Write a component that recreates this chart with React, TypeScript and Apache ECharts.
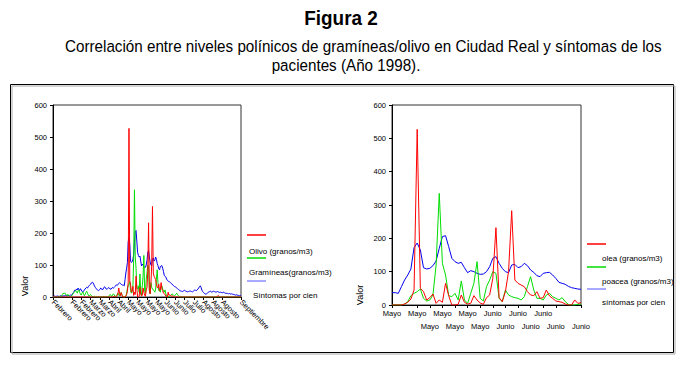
import { useEffect, useRef } from 'react';
import * as echarts from 'echarts';

// ---- Tick labels ----
const leftTickLabels = [
  'Febrero', 'Febrero', 'Febrero', 'Febrero', 'Marzo', 'Marzo', 'Abril', 'Abril',
  'Mayo', 'Mayo', 'Mayo', 'Mayo', 'Junio', 'Junio', 'Julio', 'Julio',
  'Agosto', 'Agosto', 'Agosto', 'Septiembre', 'Septiembre',
];
const rightTickLabels = [
  'Mayo', 'Mayo', 'Mayo', 'Mayo', 'Mayo', 'Mayo', 'Mayo', 'Mayo',
  'Junio', 'Junio', 'Junio', 'Junio', 'Junio', 'Junio', 'Junio', 'Junio',
];
const yTicks = [0, 100, 200, 300, 400, 500, 600];

// ---- Daily values, 1 Feb - 30 Apr (89 days) ----
const oleaFebApr = [
  0, 0, 0, 0, 0, 0, 0, 0, 0, 0,
  0, 0, 0, 0, 0, 0, 0, 0, 0, 0,
  0, 0, 0, 0, 0, 0, 0, 0, 0, 0,
  0, 0, 0, 0, 0, 0, 0, 0, 0, 0,
  0, 0, 0, 0, 0, 0, 0, 0, 0, 0,
  0, 0, 0, 0, 0, 0, 0, 0, 0, 0,
  0, 0, 0, 0, 0, 0, 0, 0, 0, 0,
  0, 0, 0, 0, 0, 0,
  0, 1, 3, 2, 0, 1, 5, 12, 28, 10, 4, 14, 6,
];
const poaceaFebApr = [
  0, 0, 0, 0, 1, 0, 0, 2, 0, 1, 0,
  3, 8, 12, 10, 13, 9, 6, 4, 8, 3,
  1, 0, 2, 4, 8, 12, 15, 18, 20, 16,
  12, 20, 22, 14, 10, 6, 12, 16, 10, 4,
  8, 14, 18, 12, 6, 3, 5, 8, 4, 2,
  1, 0, 2, 0, 1, 0, 0, 1, 0, 0,
  0, 1, 0, 0, 2, 0, 0, 1, 0, 0,
  3, 5, 8, 4, 2, 6, 10, 7, 3, 2,
  5, 8, 12, 6, 3, 10, 14, 8,
];
const sintomasFebApr = [
  2, 2, 3, 2, 2, 3, 3, 2, 2, 3,
  4, 3, 3, 4, 3, 4, 5, 4, 5, 4,
  5, 4, 6, 5, 6, 10, 14, 18, 22, 20,
  25, 22, 28, 24, 20, 26, 22, 18, 15, 18,
  22, 25, 28, 30, 28, 32, 35, 38, 40, 44,
  46, 45, 40, 34, 30, 26, 24, 22, 20, 22,
  24, 28, 26, 22, 25, 30, 32, 28, 25, 24,
  27, 30, 28, 25, 24, 28, 30, 27, 30, 33,
  35, 38, 36, 40, 42, 45, 42, 40, 38,
];

// ---- Daily values, 1 May - 30 Jun (61 days) ----
const oleaMayJun = [
  0, 0, 0, 0, 3, 8, 18, 45, 527, 50, 40,
  15, 22, 33, 5, 15, 8, 65, 28, 0, 0,
  2, 30, 8, 3, 5, 28, 15, 6, 2, 22,
  30, 80, 232, 22, 10, 40, 100, 283, 75, 65,
  60, 55, 40, 30, 28, 40, 20, 22, 45, 27,
  20, 12, 10, 8, 3, 0, 0, 15, 5, 7,
];
const poaceaMayJun = [
  0, 0, 0, 0, 3, 10, 28, 35, 40, 48, 20,
  12, 15, 30, 120, 335, 125, 90, 28, 25, 35,
  15, 72, 15, 5, 35, 65, 130, 20, 12, 55,
  75, 100, 95, 20, 10, 45, 30, 25, 22, 20,
  15, 25, 55, 85, 45, 20, 20, 15, 30, 35,
  25, 20, 15, 22, 10, 2, 0, 0, 2, 3,
];
const sintomasMayJun = [
  37, 37, 35, 55, 75, 90, 108, 172, 186, 165, 112,
  108, 110, 118, 132, 170, 205, 208, 175, 140, 130,
  125, 128, 112, 97, 103, 100, 95, 92, 93, 100,
  115, 140, 145, 125, 110, 100, 97, 120, 122, 112,
  115, 125, 118, 105, 98, 88, 85, 95, 97, 98,
  90, 80, 68, 65, 62, 56, 52, 50, 48, 47,
];

// ---- Daily values, 1 Jul - 28 Sep (91 days) ----
const oleaJulSep = [
  5, 3, 2, 4, 1, 0, 0, 0, 1, 0,
  0, 0, 0, 0, 0, 0, 0, 0, 0, 0,
  0, 0, 0, 0, 0, 0, 0, 0, 0, 0,
  0, 0, 0, 0, 0, 0, 0, 0, 0, 0,
  0, 0, 0, 0, 0, 0, 0, 0, 0, 0,
  0, 0, 0, 0, 0, 0, 0, 0, 0, 0,
  3, 5, 1, 0, 0, 0, 0, 0, 0, 0,
  0, 0, 0, 0, 0, 0, 0, 0, 0, 0,
  0, 0, 0, 0, 0, 0, 0, 0, 0, 0, 0,
];
const poaceaJulSep = [
  4, 6, 10, 8, 5, 3, 6, 9, 12, 7,
  4, 2, 1, 0, 1, 0, 0, 0, 0, 0,
  0, 0, 0, 0, 0, 0, 0, 0, 0, 0,
  0, 0, 0, 0, 0, 0, 0, 0, 0, 0,
  0, 0, 0, 0, 0, 0, 0, 0, 0, 0,
  0, 0, 0, 0, 0, 0, 0, 0, 0, 0,
  0, 0, 0, 0, 0, 0, 0, 0, 0, 0,
  0, 0, 0, 0, 0, 0, 0, 0, 0, 0,
  0, 0, 0, 0, 0, 0, 0, 0, 0, 0, 0,
];
const sintomasJulSep = [
  45, 42, 40, 38, 35, 33, 32, 30, 28, 26,
  24, 22, 20, 19, 18, 17, 18, 20, 21, 19,
  18, 17, 16, 17, 18, 19, 18, 17, 16, 18,
  20, 22, 21, 20, 22, 25, 28, 32, 35, 30,
  22, 17, 14, 12, 10, 9, 10, 12, 14, 16,
  17, 18, 16, 15, 17, 18, 17, 16, 15, 16,
  17, 16, 15, 14, 15, 14, 13, 14, 15, 13,
  12, 11, 12, 11, 10, 11, 10, 9, 10, 9,
  8, 8, 7, 6, 7, 6, 5, 5, 4, 4, 4,
];

const leftLegend = ['Olivo (granos/m3)', 'Gramíneas(granos/m3)', 'Síntomas por cien'];
const rightLegend = ['olea (granos/m3)', 'poacea (granos/m3)', 'síntomas por cien'];

const RED = '#ff0000';
const GREEN = '#00dd00';
const BLUE = '#0000f0';
const LAV = '#8c8cff';
const FONT = "'Liberation Sans', Arial, sans-serif";

const xy = (arr: number[]) => arr.map((v, i) => [i, v]);

function buildOption() {
  const oleaAll = [...oleaFebApr, ...oleaMayJun, ...oleaJulSep];
  const poaceaAll = [...poaceaFebApr, ...poaceaMayJun, ...poaceaJulSep];
  const sintomasAll = [...sintomasFebApr, ...sintomasMayJun, ...sintomasJulSep];
  const leftMax = (leftTickLabels.length - 1) * 12;
  const rightMax = (rightTickLabels.length - 1) * 4;

  const yAxisBase = (gridIndex: number) => ({
    gridIndex,
    type: 'value',
    min: yTicks[0],
    max: yTicks[yTicks.length - 1],
    interval: 100,
    axisLine: { show: true, lineStyle: { color: '#000', width: 1 } },
    axisTick: { show: true, length: 3, lineStyle: { color: '#000' } },
    axisLabel: { fontSize: 7.5, fontFamily: FONT, color: '#000', margin: 6 },
    splitLine: { show: false },
  });

  const line = (name: string, data: number[], color: string, idx: number) => ({
    name,
    type: 'line',
    xAxisIndex: idx,
    yAxisIndex: idx,
    data: xy(data),
    showSymbol: false,
    symbol: 'none',
    silent: true,
    lineStyle: { width: 1, color },
    itemStyle: { color },
  });

  const legendGroup = (x0: number, lineY: number[], textX: number, textY: number[], labels: string[]) => {
    const cols = [RED, GREEN, LAV];
    const els: any[] = [];
    labels.forEach((t, i) => {
      els.push({
        type: 'line',
        shape: { x1: x0, y1: lineY[i], x2: x0 + 19, y2: lineY[i] },
        style: { stroke: cols[i], lineWidth: 1.5 },
      });
      els.push({
        type: 'text',
        x: textX + (i === 2 && x0 < 300 ? 4 : 0),
        y: textY[i],
        style: { text: t, fontSize: 8, fontFamily: FONT, fill: '#000', align: 'left', verticalAlign: 'middle' },
      });
    });
    return els;
  };

  return {
    animation: false,
    backgroundColor: '#fff',
    grid: [
      { left: 53, top: 105, width: 188, height: 192, show: true, borderColor: '#333', borderWidth: 1, outerBoundsMode: 'none' },
      { left: 392, top: 105, width: 189, height: 200, show: true, borderColor: '#333', borderWidth: 1, outerBoundsMode: 'none' },
    ],
    xAxis: [
      {
        gridIndex: 0,
        type: 'value',
        min: 0,
        max: leftMax,
        interval: 12,
        axisLine: { show: true, lineStyle: { color: '#000', width: 1 } },
        axisTick: { show: true, length: 3, lineStyle: { color: '#000' } },
        axisLabel: {
          formatter: (v: number) => leftTickLabels[Math.round(v / 12)] ?? '',
          rotate: -45,
          fontSize: 7.5,
          fontFamily: FONT,
          color: '#000',
          margin: 4,
          hideOverlap: false,
          showMinLabel: true,
          showMaxLabel: true,
        },
        splitLine: { show: false },
      },
      {
        gridIndex: 1,
        type: 'value',
        min: 0,
        max: rightMax,
        interval: 4,
        axisLine: { show: true, lineStyle: { color: '#000', width: 1 } },
        axisTick: { show: true, length: 3, lineStyle: { color: '#000' } },
        axisLabel: {
          formatter: (v: number) => {
            const i = Math.round(v / 4);
            const t = rightTickLabels[i] ?? '';
            return i % 2 ? '\n' + t : t;
          },
          fontSize: 7.5,
          lineHeight: 13,
          fontFamily: FONT,
          color: '#000',
          margin: 2,
          hideOverlap: false,
          showMinLabel: true,
          showMaxLabel: true,
        },
        splitLine: { show: false },
      },
    ],
    yAxis: [yAxisBase(0), yAxisBase(1)],
    series: [
      line('Síntomas por cien', sintomasAll, BLUE, 0),
      line('Gramíneas(granos/m3)', poaceaAll, GREEN, 0),
      line('Olivo (granos/m3)', oleaAll, RED, 0),
      line('síntomas por cien', sintomasMayJun, BLUE, 1),
      line('poacea (granos/m3)', poaceaMayJun, GREEN, 1),
      line('olea (granos/m3)', oleaMayJun, RED, 1),
    ],
    graphic: [
      {
        type: 'rect',
        shape: { x: 12, y: 86, width: 663, height: 268 },
        style: { fill: 'none', stroke: '#aaa', lineWidth: 1 },
        z: 1,
      },
      {
        type: 'rect',
        shape: { x: 10.5, y: 84.5, width: 663, height: 268 },
        style: { fill: '#fff', stroke: '#000', lineWidth: 1 },
        z: -10,
      },
      {
        type: 'text',
        x: 341,
        y: 18,
        scaleX: 0.9,
        style: { text: 'Figura 2', fontSize: 21, fontWeight: 'bold', fontFamily: FONT, fill: '#000', align: 'center', verticalAlign: 'middle' },
      },
      {
        type: 'text',
        x: 65,
        y: 46,
        scaleX: 0.922,
        style: {
          text: 'Correlación entre niveles polínicos de gramíneas/olivo en Ciudad Real y síntomas de los',
          fontSize: 16.5, fontFamily: FONT, fill: '#000', align: 'left', verticalAlign: 'middle',
        },
      },
      {
        type: 'text',
        x: 346,
        y: 65,
        scaleX: 0.922,
        style: { text: 'pacientes (Año 1998).', fontSize: 16.5, fontFamily: FONT, fill: '#000', align: 'center', verticalAlign: 'middle' },
      },
      {
        type: 'text',
        x: 25,
        y: 286,
        rotation: Math.PI / 2,
        style: { text: 'Valor', fontSize: 9, fontFamily: FONT, fill: '#000', align: 'center', verticalAlign: 'middle' },
      },
      {
        type: 'text',
        x: 360,
        y: 295,
        rotation: Math.PI / 2,
        style: { text: 'Valor', fontSize: 9, fontFamily: FONT, fill: '#000', align: 'center', verticalAlign: 'middle' },
      },
      ...legendGroup(247, [235, 258, 281], 249, [251, 272, 295], leftLegend),
      ...legendGroup(587, [244, 267, 289], 602, [258, 281, 302], rightLegend),
    ],
  };
}

export default function App() {
  const ref = useRef<HTMLDivElement>(null);
  useEffect(() => {
    if (!ref.current) return;
    const chart = echarts.init(ref.current, null, { renderer: 'svg' });
    chart.setOption(buildOption() as any);
    return () => chart.dispose();
  }, []);
  return (
    <div
      ref={ref}
      style={{ position: 'absolute', left: 0, top: 0, width: 688, height: 366, background: '#fff' }}
    />
  );
}
